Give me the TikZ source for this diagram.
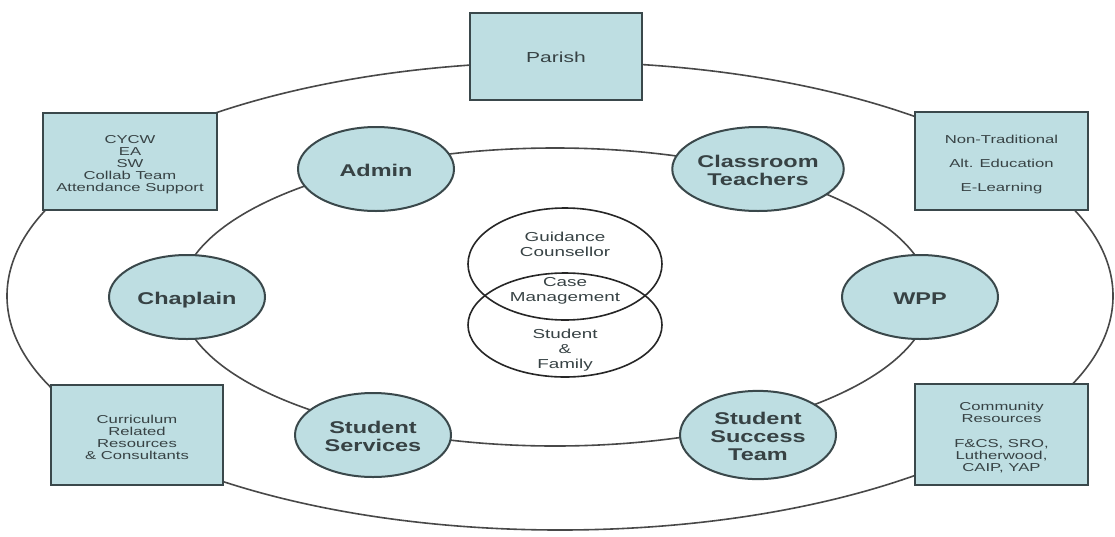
\documentclass[tikz,border=0pt]{standalone}
\usepackage{fontspec}
\setmainfont{Liberation Sans}
\usetikzlibrary{shapes.geometric}
\definecolor{fillblue}{RGB}{190,222,226}
\definecolor{edgecol}{RGB}{58,72,75}
\definecolor{txtcol}{RGB}{55,66,68}
\definecolor{ringcol}{RGB}{72,72,72}
\newcommand\stx[3][0pt]{\scalebox{#2}[1]{\begin{tabular}{@{}c@{}}\rule{0pt}{#1}#3\end{tabular}}}
\begin{document}
\begin{tikzpicture}[x=1pt,y=-1pt,
  ringline/.style={draw=ringcol, line width=1.6pt},
  rolebox/.style={rectangle, draw=edgecol, line width=2.2pt, fill=fillblue, inner sep=0pt,
    text=txtcol, font=\fontsize{11.5}{12}\selectfont},
  role/.style={ellipse, draw=edgecol, line width=2pt, fill=fillblue, inner sep=0pt,
    minimum width=156pt, minimum height=84pt, text=txtcol,
    font=\fontsize{17}{18}\selectfont\bfseries},
  venn/.style={ellipse, draw=black!85, line width=1.6pt, minimum width=194pt, inner sep=0pt},
  venntext/.style={text=txtcol, font=\fontsize{13}{15}\selectfont, inner sep=0pt}]
\useasboundingbox (0,0) rectangle (1115,536);
\fill[white] (0,0) rectangle (1115,536);

% rings
\coordinate (outerc) at (560,296);
\coordinate (innerc) at (555,297);
\draw[ringline] (outerc) ellipse [x radius=553pt, y radius=234pt];
\draw[ringline] (innerc) ellipse [x radius=375pt, y radius=149pt];

% outer boxes
\node[rolebox, minimum width=172pt, minimum height=87pt] (parish) at (556,56.5)
  {\stx[16pt]{1.45}{\fontsize{14.5}{14.5}\selectfont Parish}};
\node[rolebox, minimum width=174pt, minimum height=97pt] (tl) at (130,161.5)
  {\stx[16pt]{1.45}{CYCW\\EA\\SW\\Collab Team\\Attendance Support}};
\node[rolebox, minimum width=173pt, minimum height=98pt] (tr) at (1001.5,161)
  {\stx[16pt]{1.45}{Non-Traditional\\[12pt]Alt. Education\\[12pt]E-Learning}};
\node[rolebox, minimum width=172pt, minimum height=100pt] (bl) at (137,435)
  {\stx[16pt]{1.45}{Curriculum\\Related\\Resources\\\& Consultants}};
\node[rolebox, minimum width=173pt, minimum height=101pt] (br) at (1001.5,434.5)
  {\stx[16pt]{1.45}{Community\\Resources\\[13pt]F\&CS, SRO,\\Lutherwood,\\CAIP, YAP}};

% role ellipses
\node[role] (admin) at (376,169) {\stx[21pt]{1.38}{Admin}};
\node[role] (teach) at (758,169) {\stx[21pt]{1.38}{Classroom\\Teachers}};
\node[role] (chap) at (187,297) {\stx[21pt]{1.38}{Chaplain}};
\node[role] (wpp) at (920,297) {\stx[21pt]{1.38}{WPP}};
\node[role] (serv) at (373,435) {\stx[21pt]{1.38}{Student\\Services}};
\node[role] (sst) at (758,435) {\stx[21pt]{1.38}{Student\\Success\\Team}};

% central venn
\node[venn, minimum height=112pt] (gc) at (565,264) {};
\node[venn, minimum height=104pt] (sf) at (565,325) {};
\node[venntext] (gctext) at (565,243) {\stx[16pt]{1.45}{Guidance\\Counsellor}};
\node[venntext] (cmtext) at (565,288) {\stx[16pt]{1.45}{Case\\Management}};
\node[venntext] (sftext) at (565,348) {\stx[16pt]{1.45}{Student\\\&\\Family}};
\end{tikzpicture}
\end{document}
